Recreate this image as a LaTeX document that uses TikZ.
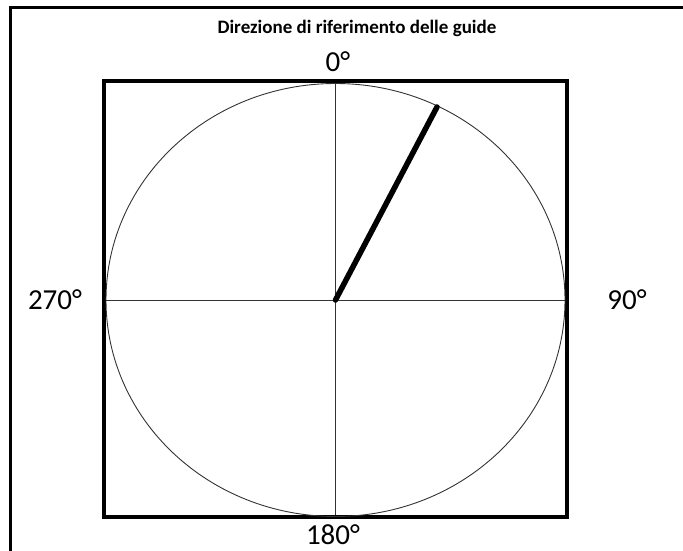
\documentclass[tikz,border=0pt]{standalone}
\usepackage{fontspec}
\setmainfont{Carlito}
\begin{document}
\begin{tikzpicture}[x=1pt,y=-1pt,
  frameline/.style={line width=3pt,black},
  boxline/.style={line width=4pt,black},
  thinline/.style={line width=0.9pt,black!80},
  needle/.style={line width=5.5pt,black,line cap=round},
  lbl/.style={font=\fontsize{29}{33}\selectfont,inner sep=0pt},
  ttl/.style={font=\bfseries\fontsize{19}{22}\selectfont,inner sep=0pt}]
\useasboundingbox (0,0) rectangle (683,551);
% outer frame (left and top)
\coordinate (fTL) at (10.5,8);
\coordinate (fBL) at (10.5,552);
\coordinate (fTR) at (684,8);
\draw[frameline] (fBL) -- (fTL) -- (fTR);
% title
\node[ttl] (title) at (357,28) {Direzione di riferimento delle guide};
% inner square
\draw[boxline] (104,81) rectangle (567,517);
% ellipse and axes
\coordinate (c) at (335.5,300);
\draw[thinline] (c) ellipse [x radius=229.5, y radius=216.5];
\coordinate (top) at (335.5,83);
\coordinate (bot) at (335.5,515);
\coordinate (lft) at (106,300);
\coordinate (rgt) at (565,300);
\draw[thinline] (top) -- (bot);
\draw[thinline] (lft) -- (rgt);
% needle
\coordinate (tip) at (437,107);
\draw[needle] (c) -- (tip);
% labels
\node[lbl] (l0) at (338,62) {0°};
\node[lbl] (l90) at (627,300) {90°};
\node[lbl] (l180) at (333,535) {180°};
\node[lbl] (l270) at (55,300) {270°};
\end{tikzpicture}
\end{document}
